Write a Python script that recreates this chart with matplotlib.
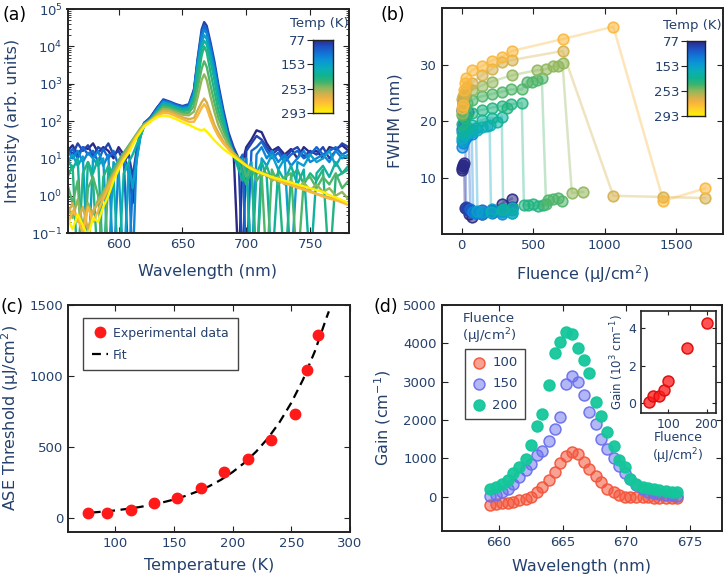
import numpy as np
import matplotlib
matplotlib.use("Agg")
import matplotlib.pyplot as plt
from matplotlib.colors import LinearSegmentedColormap

# ---------------- data ----------------
# (a) emission spectra, log10 intensity
A_WL = [560, 564, 568, 572, 576, 580, 584, 588, 592, 596, 600, 604, 608, 611, 614, 617, 620,
        625, 630, 635, 640, 645, 650, 655, 659, 662, 665, 667, 669, 672, 675, 678, 682, 686, 690,
        694, 697, 700, 704, 708, 712, 716, 720, 725, 730, 735, 740, 745, 750, 755, 760, 765, 770, 775, 780]
A_TEMPS = [77, 93, 113, 133, 153, 193, 213, 233, 253, 263, 273, 293]
A_LOGI = [
    [1.2, 1.35, 1.1, 1.3, 1.25, 1.4, 1.15, 1.3, 1.2, 1.0, 1.3, 1.1, 0.6, -0.2, 1.0, 1.6, 1.9,
     2.1, 2.35, 2.55, 2.5, 2.42, 2.38, 2.4, 2.8, 3.6, 4.3, 4.5, 4.4, 4.0, 3.5, 2.9, 2.2, 1.6, 1.2,
     -2, 0.9, 1.3, 1.5, 1.75, 1.7, 1.4, 1.2, 1.3, 1.1, 1.25, 1.0, 1.3, 1.15, 1.2, 1.0, 1.3, 1.25, 1.35, 1.2],
    [1.3, 1.1, 1.4, 1.2, 1.35, 1.05, 1.3, 1.2, 1.4, 1.1, 1.2, 0.9, 1.1, 0.5, 1.2, 1.7, 1.95,
     2.1, 2.35, 2.58, 2.52, 2.45, 2.4, 2.45, 2.85, 3.7, 4.45, 4.65, 4.55, 4.1, 3.6, 3.0, 2.3, 1.7, 1.3,
     1.0, -2, 1.2, 1.4, 1.6, 1.5, 1.3, 1.1, 1.25, 1.0, 1.2, 1.3, 1.05, 1.2, 1.1, 1.3, 1.0, 1.2, 1.4, 1.3],
    [1.1, 1.25, 1.0, 1.3, 1.1, 1.2, 0.9, 1.25, 1.0, 1.2, 0.8, 1.0, -2, 0.3, 1.1, 1.65, 1.95,
     2.08, 2.33, 2.55, 2.5, 2.43, 2.38, 2.42, 2.8, 3.65, 4.35, 4.55, 4.45, 4.0, 3.5, 2.9, 2.2, 1.6, 1.2,
     0.9, 1.1, -2, 1.2, 1.3, 1.45, 1.2, 1.0, 1.15, 0.9, 1.1, 1.2, 1.0, 1.1, 1.3, 1.1, 1.2, 1.3, 1.1, 1.2],
    [1.2, 1.0, 1.2, 0.9, 1.15, 1.0, 1.2, 0.8, 1.1, -2, 0.9, 1.0, 0.6, -2, 1.0, 1.6, 1.9,
     2.06, 2.3, 2.52, 2.48, 2.4, 2.35, 2.38, 2.75, 3.6, 4.25, 4.45, 4.35, 3.9, 3.4, 2.8, 2.1, 1.5, 1.1,
     0.9, 0.7, 1.0, -2, 1.1, 1.3, 1.0, 1.2, 0.9, 1.1, 0.8, 1.0, 1.2, 0.9, 1.0, 1.1, 0.9, 1.2, 1.0, 1.1],
    [0.9, 1.1, 0.8, 1.05, -2, 1.0, 0.8, 1.0, -2, 0.9, 0.7, -2, 0.8, 0.2, 0.9, 1.55, 1.9,
     2.05, 2.28, 2.5, 2.45, 2.38, 2.33, 2.35, 2.7, 3.5, 4.1, 4.3, 4.2, 3.75, 3.3, 2.7, 2.1, 1.5, 1.1,
     0.8, 1.0, 0.6, 0.9, -2, 1.0, 0.8, 1.1, 0.7, 1.0, -2, 0.9, 0.8, 1.1, 0.9, 1.0, 1.2, 0.8, 1.1, 1.0],
    [1.0, 0.7, 1.0, -2, 0.9, 0.6, 1.0, -2, 0.7, 0.5, -2, 0.6, 0.9, 1.1, 1.35, 1.6, 1.85,
     2.03, 2.25, 2.45, 2.42, 2.35, 2.3, 2.32, 2.65, 3.4, 3.95, 4.15, 4.05, 3.6, 3.1, 2.55, 2.0, 1.5, 1.1,
     0.7, 0.4, 0.8, -2, 0.6, 0.9, 0.5, -2, 0.7, 0.4, 0.8, 0.3, 0.7, -2, 0.6, 0.8, 0.5, 0.9, 0.6, 0.8],
    [0.5, 0.8, -2, 0.6, 0.9, 0.4, -2, 0.5, 0.8, 0.6, 0.9, 1.1, 1.25, 1.4, 1.55, 1.7, 1.88,
     2.02, 2.22, 2.42, 2.38, 2.32, 2.27, 2.28, 2.55, 3.1, 3.75, 4.0, 3.85, 3.3, 2.8, 2.3, 1.85, 1.4, 1.1,
     0.9, 0.6, 0.3, 0.7, -2, 0.5, 0.8, 0.4, 0.6, -2, 0.5, 0.7, 0.3, 0.6, 0.4, 0.7, -2, 0.5, 0.6, 0.7],
    [0.3, -0.2, 0.4, -2, 0.2, 0.5, 0.0, -2, 0.4, 0.7, 0.95, 1.15, 1.35, 1.5, 1.65, 1.8, 1.92,
     2.02, 2.2, 2.38, 2.35, 2.28, 2.22, 2.22, 2.4, 2.9, 3.4, 3.6, 3.45, 2.95, 2.5, 2.1, 1.75, 1.4, 1.15,
     1.0, 0.85, 0.5, 0.8, 0.4, 0.6, -2, 0.7, 0.3, 0.5, 0.6, -2, 0.4, 0.5, 0.2, 0.5, 0.3, 0.6, 0.2, 0.4],
    [-0.3, -0.6, -0.1, -0.8, -0.2, -0.5, -0.1, 0.1, 0.35, 0.6, 0.85, 1.1, 1.3, 1.48, 1.62, 1.78, 1.9,
     2.02, 2.18, 2.33, 2.3, 2.23, 2.17, 2.15, 2.25, 2.65, 3.1, 3.25, 3.1, 2.65, 2.25, 1.9, 1.6, 1.35, 1.15,
     1.0, 0.9, 0.8, 0.7, 0.65, 0.55, 0.6, 0.4, 0.5, 0.3, 0.4, 0.2, 0.35, 0.15, 0.3, 0.1, 0.2, 0.0, 0.1, -0.1],
    [-0.5, -0.2, -0.7, -0.3, -0.9, -0.4, -0.2, 0.0, 0.3, 0.55, 0.8, 1.05, 1.25, 1.45, 1.6, 1.75, 1.88,
     2.01, 2.15, 2.28, 2.25, 2.18, 2.1, 2.05, 2.08, 2.3, 2.5, 2.6, 2.5, 2.2, 1.9, 1.7, 1.45, 1.28, 1.1,
     0.98, 0.9, 0.82, 0.75, 0.68, 0.62, 0.55, 0.5, 0.42, 0.35, 0.3, 0.25, 0.18, 0.12, 0.05, 0.0, -0.05, -0.1, -0.15, -0.2],
    [-0.8, -0.4, -0.6, -1.0, -0.3, -0.7, -0.4, -0.1, 0.2, 0.5, 0.75, 1.0, 1.2, 1.4, 1.58, 1.72, 1.86,
     2.0, 2.13, 2.22, 2.2, 2.13, 2.05, 1.98, 1.98, 2.15, 2.35, 2.45, 2.35, 2.05, 1.8, 1.6, 1.4, 1.25, 1.1,
     0.96, 0.88, 0.8, 0.72, 0.66, 0.6, 0.54, 0.48, 0.4, 0.33, 0.28, 0.22, 0.16, 0.1, 0.04, -0.02, -0.08, -0.12, -0.18, -0.25],
    [-0.6, -0.9, -0.5, -0.8, -1.1, -0.6, -0.7, -0.3, 0.0, 0.4, 0.7, 0.95, 1.15, 1.35, 1.55, 1.7, 1.85,
     1.98, 2.1, 2.15, 2.12, 2.05, 1.97, 1.9, 1.83, 1.78, 1.75, 1.78, 1.72, 1.6, 1.48, 1.38, 1.25, 1.15, 1.05,
     0.95, 0.88, 0.8, 0.72, 0.65, 0.6, 0.55, 0.5, 0.45, 0.4, 0.35, 0.3, 0.25, 0.2, 0.15, 0.1, 0.02, -0.05, -0.12, -0.2],
]

# (b) FWHM vs fluence for each temperature
B_TEMPS = [77, 93, 113, 133, 153, 173, 193, 213, 233, 253, 263, 273]
B_FLUENCE = [
    [2, 5, 8, 12, 16, 22, 35, 50, 70, 140, 210, 280, 350],
    [3, 6, 10, 15, 22, 30, 45, 70, 100, 140, 210, 280, 350],
    [3, 8, 15, 25, 45, 60, 70, 100, 140, 210, 280, 350],
    [3, 10, 20, 40, 70, 80, 100, 140, 210, 280, 350],
    [5, 20, 40, 70, 100, 110, 140, 210, 280, 350],
    [5, 20, 40, 70, 105, 140, 175, 195, 205, 280, 350],
    [5, 20, 40, 70, 140, 210, 250, 280, 290, 350],
    [5, 20, 40, 70, 140, 210, 280, 320, 345, 420, 435, 460, 500, 530, 570],
    [5, 20, 40, 70, 140, 210, 280, 345, 420, 455, 490, 525, 560, 590, 600, 640, 670, 700],
    [5, 10, 20, 70, 140, 210, 350, 525, 590, 640, 675, 705, 770, 850],
    [5, 10, 20, 35, 70, 140, 210, 280, 350, 705, 1060, 1410, 1700],
    [5, 10, 15, 20, 30, 70, 140, 210, 280, 350, 705, 1060, 1410, 1700],
]
B_FWHM = [
    [11.4, 11.7, 12.0, 12.3, 12.6, 4.6, 4.4, 3.6, 3.0, 3.6, 4.3, 5.4, 6.3],
    [22.0, 23.0, 23.8, 24.2, 24.5, 4.8, 4.3, 4.0, 3.8, 3.9, 4.2, 4.5, 4.9],
    [18.6, 19.4, 20.2, 21.0, 21.6, 4.4, 4.1, 3.9, 4.3, 3.8, 4.1, 4.6],
    [15.4, 16.2, 16.9, 17.4, 17.8, 4.0, 3.8, 3.5, 4.0, 3.6, 4.3],
    [16.5, 17.4, 18.0, 18.4, 18.8, 4.2, 3.9, 4.4, 4.0, 3.7],
    [17.0, 17.8, 18.2, 18.0, 18.5, 18.9, 19.2, 19.4, 4.0, 4.3, 3.8],
    [18.0, 18.6, 19.0, 19.3, 20.2, 20.6, 19.8, 20.8, 4.5, 4.6],
    [19.5, 20.5, 21.0, 21.5, 22.0, 22.4, 22.7, 22.3, 23.0, 23.2, 5.2, 5.1, 5.3, 5.0, 5.2],
    [21.0, 22.5, 23.2, 23.8, 24.4, 24.8, 25.2, 25.6, 25.6, 27.0, 27.0, 27.2, 27.6, 5.3, 6.0, 6.2, 6.5, 5.8],
    [21.5, 23.0, 24.5, 25.5, 26.3, 27.0, 28.1, 29.0, 29.2, 29.7, 29.8, 30.2, 7.3, 7.5],
    [24.0, 24.5, 25.2, 26.0, 26.8, 28.1, 29.2, 30.4, 30.8, 32.4, 6.8, 6.6, 6.4],
    [22.3, 22.8, 25.5, 26.8, 27.6, 29.0, 29.7, 30.7, 31.4, 32.4, 34.5, 36.7, 5.9, 8.1],
]

# (c) ASE threshold vs temperature
C_TEMP = [77, 93, 113, 133, 153, 173, 193, 213, 233, 253, 263, 273]
C_THRESH = [29, 33, 52, 102, 140, 207, 319, 414, 545, 731, 1038, 1290]
FIT_TEMP = [80, 90, 100, 110, 120, 130, 140, 150, 160, 170, 180, 190, 200, 210, 220,
            230, 240, 250, 260, 270, 280, 282]
FIT_THRESH = [35, 42, 50, 61, 73, 88, 106, 127, 153, 184, 221, 266, 321, 386, 465,
              559, 673, 810, 974, 1172, 1411, 1455]

# (d) gain spectra
D_WL = [659.3, 659.8, 660.2, 660.7, 661.1, 661.6, 662.1, 662.5, 663.0, 663.4, 663.9,
        664.4, 664.8, 665.3, 665.7, 666.2, 666.7, 667.1, 667.6, 668.0, 668.5, 669.0,
        669.4, 669.9, 670.3, 670.8, 671.3, 671.7, 672.2, 672.6, 673.1, 673.6, 674.0]
D_GAIN_100 = [-230, -200, -180, -160, -140, -100, -60, 0, 110, 250, 420, 640, 870, 1060, 1170,
              1120, 900, 730, 540, 370, 200, 110, 40, 0, -10, -20, -20, -20, -30, -30, -30, -30, -30]
D_GAIN_150 = [20, 50, 110, 200, 340, 500, 700, 860, 1080, 1200, 1450, 1750, 2070, 2930, 3140,
              3000, 2660, 2200, 1890, 1490, 1250, 1000, 800, 620, 450, 300, 200, 120, 80, 60, 40, 30, 20]
D_GAIN_200 = [190, 260, 330, 435, 610, 780, 990, 1340, 1830, 2165, 2910, 3757, 4040, 4300, 4235,
              3890, 3570, 3230, 2480, 2110, 1680, 1320, 950, 770, 470, 330, 240, 210, 190, 170, 150, 130, 110]
INSET_FLUENCE = [50, 60, 75, 90, 100, 150, 200]
INSET_GAIN = [0.08, 0.38, 0.40, 0.70, 1.18, 2.95, 4.30]

# ---------------- style ----------------
NAVY = "#24406c"
plt.rcParams["font.family"] = ["DejaVu Sans"]
plt.rcParams["mathtext.default"] = "regular"
plt.rcParams["text.color"] = NAVY
plt.rcParams["axes.labelcolor"] = NAVY
plt.rcParams["axes.edgecolor"] = "#222222"
plt.rcParams["axes.linewidth"] = 1.4
plt.rcParams["xtick.color"] = "#222222"
plt.rcParams["ytick.color"] = "#222222"
plt.rcParams["xtick.labelcolor"] = NAVY
plt.rcParams["ytick.labelcolor"] = NAVY
plt.rcParams["xtick.direction"] = "in"
plt.rcParams["ytick.direction"] = "in"
plt.rcParams["xtick.top"] = True
plt.rcParams["ytick.right"] = True
plt.rcParams["xtick.major.size"] = 4
plt.rcParams["ytick.major.size"] = 4
plt.rcParams["xtick.minor.size"] = 2.5
plt.rcParams["ytick.minor.size"] = 2.5
plt.rcParams["xtick.labelsize"] = 9.5
plt.rcParams["ytick.labelsize"] = 9.5
plt.rcParams["axes.labelsize"] = 11.5

temp_cmap = LinearSegmentedColormap.from_list("temp", [
    (0.0, "#2a2a86"), (0.1, "#1f4fc4"), (0.2, "#1177d8"), (0.3, "#0b98d6"),
    (0.4, "#0aaeb8"), (0.5, "#10b48f"), (0.58, "#3cb46e"), (0.66, "#8cb85c"),
    (0.75, "#d4b04c"), (0.83, "#fbb53c"), (0.92, "#ffd526"), (1.0, "#fff200")])


def temp_color(t):
    # colour bar is labelled 77/153/253/293 at equal spacing
    return temp_cmap(np.interp(t, [77, 153, 253, 293], [0, 1 / 3, 2 / 3, 1]))


W, H = 725, 578
fig = plt.figure(figsize=(7.25, 5.78), dpi=100)


def px_axes(x0, y0, x1, y1):
    return fig.add_axes([x0 / W, 1 - y1 / H, (x1 - x0) / W, (y1 - y0) / H])


def px_text(x, y, s, **kw):
    fig.text(x / W, 1 - y / H, s, **kw)


def draw_cbar(x0, y0, x1, y1):
    cax = px_axes(x0, y0, x1, y1)
    grad = np.linspace(0, 1, 256)[:, None]
    cax.imshow(grad, aspect="auto", cmap=temp_cmap, extent=[0, 1, 1, 0])
    cax.set_xlim(0, 1)
    cax.set_ylim(1, 0)
    cax.set_xticks([])
    cax.set_yticks([0, 1 / 3, 2 / 3, 1])
    cax.set_yticklabels(["77", "153", "253", "293"])
    cax.tick_params(axis="y", direction="out", left=True, right=False, length=4,
                    labelsize=9.5, pad=1)
    cax.tick_params(axis="x", top=False, bottom=False)
    for s in cax.spines.values():
        s.set_linewidth(1.0)
    px_text((x0 + x1) / 2 - 4, y0 - 16, "Temp (K)", ha="center", va="center", fontsize=9.5)


def style_legend(leg):
    leg.get_frame().set_linewidth(1.0)
    for txt in leg.get_texts():
        txt.set_color(NAVY)


# ---------------- (a) ----------------
ax = px_axes(67.5, 9, 348.5, 233)
for t, logi in zip(A_TEMPS, A_LOGI):
    ax.plot(A_WL, 10 ** np.array(logi), color=temp_color(t), lw=1.7)
ax.set_yscale("log")
ax.set_xlim(560, 780)
ax.set_ylim(0.1, 1e5)
ax.set_xticks([600, 650, 700, 750])
ax.set_xlabel("Wavelength (nm)")
ax.set_ylabel("Intensity (arb. units)")
ax.xaxis.set_label_coords(0.5, -0.14)
ax.yaxis.set_label_coords(-0.17, 0.5)
draw_cbar(313.3, 40, 333.3, 113.3)
px_text(2, 15, "(a)", fontsize=12.5, color="black", va="center")

# ---------------- (b) ----------------
ax = px_axes(441.7, 8, 722.7, 234.3)
for t, f, w in zip(B_TEMPS, B_FLUENCE, B_FWHM):
    c = temp_color(t)
    ax.plot(f, w, "-", color=c, alpha=0.35, lw=1.8)
    ax.scatter(f, w, s=58, facecolor=(c[0], c[1], c[2], 0.55),
               edgecolor=(c[0], c[1], c[2], 0.9), lw=1.2, zorder=3)
ax.set_xlim(-140, 1825)
ax.set_ylim(0, 40)
ax.set_xticks([0, 500, 1000, 1500])
ax.set_yticks([10, 20, 30])
ax.set_xlabel("Fluence (μJ/cm$^2$)")
ax.set_ylabel("FWHM (nm)")
ax.xaxis.set_label_coords(0.5, -0.13)
ax.yaxis.set_label_coords(-0.138, 0.5)
draw_cbar(686.7, 41, 705, 116)
px_text(380, 15, "(b)", fontsize=12.5, color="black", va="center")

# ---------------- (c) ----------------
ax = px_axes(68.3, 305, 350, 531.7)
ax.plot(C_TEMP, C_THRESH, "o", color="#ff1a1a", ms=7.5, mec="#ff1a1a",
        label="Experimental data", zorder=3)
ax.plot(FIT_TEMP, FIT_THRESH, color="black", lw=1.6, ls=(0, (4, 2.5)), label="Fit")
ax.set_xlim(60, 300)
ax.set_ylim(-100, 1500)
ax.set_xticks([100, 150, 200, 250, 300])
ax.set_yticks([0, 500, 1000, 1500])
ax.set_xlabel("Temperature (K)")
ax.set_ylabel("ASE Threshold (μJ/cm$^2$)")
ax.xaxis.set_label_coords(0.5, -0.118)
ax.yaxis.set_label_coords(-0.168, 0.5)
leg = ax.legend(loc="upper left", bbox_to_anchor=(0.03, 0.97), fontsize=9,
                fancybox=False, edgecolor="#444444", framealpha=1, handlelength=1.3,
                handletextpad=0.4, labelspacing=0.7, borderpad=0.7)
style_legend(leg)
px_text(0, 307, "(c)", fontsize=12.5, color="black", va="center")

# ---------------- (d) ----------------
ax = px_axes(441.7, 305, 721.7, 531)
series = [("100", D_GAIN_100, "#f4563c", 0.55),
          ("150", D_GAIN_150, "#6a70ee", 0.5),
          ("200", D_GAIN_200, "#14c69a", 0.95)]
for lab, g, col, a in series:
    rgb = matplotlib.colors.to_rgb(col)
    ax.scatter(D_WL, g, s=62, facecolor=(*rgb, a), edgecolor=(*rgb, 0.95), lw=1.1,
               label=lab, zorder=3)
ax.set_xlim(655.5, 677.5)
ax.set_ylim(-900, 5000)
ax.set_xticks([660, 665, 670, 675])
ax.set_yticks([0, 1000, 2000, 3000, 4000, 5000])
ax.set_xlabel("Wavelength (nm)")
ax.set_ylabel("Gain (cm$^{-1}$)")
ax.xaxis.set_label_coords(0.5, -0.122)
ax.yaxis.set_label_coords(-0.174, 0.5)
leg = ax.legend(loc="upper left", bbox_to_anchor=(0.06, 0.835), fontsize=9.5,
                fancybox=False, edgecolor="#444444", framealpha=1, handlelength=1.0,
                handletextpad=0.5, labelspacing=0.62, borderpad=0.55)
style_legend(leg)
px_text(489, 329, "Fluence\n(μJ/cm$^2$)", ha="center", va="center", fontsize=9.5,
        linespacing=1.15)
px_text(373, 307, "(d)", fontsize=12.5, color="black", va="center")

# inset
ins = px_axes(640.7, 310.7, 715.7, 413.3)
ins.scatter(INSET_FLUENCE, INSET_GAIN, s=62, facecolor=(1, 0.1, 0.1, 0.75),
            edgecolor="#e01010", lw=1.1, zorder=3)
ins.set_xlim(28, 224)
ins.set_ylim(-0.53, 4.95)
ins.set_xticks([100, 200])
ins.set_yticks([0, 2, 4])
ins.tick_params(labelsize=9, length=3)
ins.set_xlabel("Fluence\n(μJ/cm$^2$)", fontsize=9, linespacing=1.2)
ins.set_ylabel("Gain (10$^3$ cm$^{-1}$)", fontsize=8.5)
ins.xaxis.set_label_coords(0.5, -0.17)
ins.yaxis.set_label_coords(-0.2, 0.5)
for s in ins.spines.values():
    s.set_linewidth(1.2)

fig.savefig("out.png", dpi=100)
